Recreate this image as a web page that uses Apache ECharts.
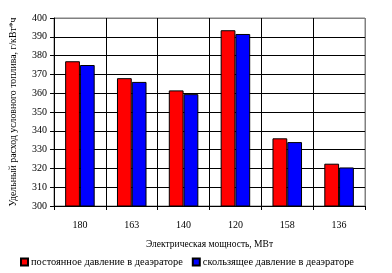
<!DOCTYPE html>
<html><head><meta charset="utf-8">
<script src="https://cdn.jsdelivr.net/npm/echarts@6/dist/echarts.min.js"></script>
<style>html,body{margin:0;padding:0;background:#fff}#c{width:392px;height:273px}</style>
</head><body><div id="c"></div>
<script>
const categories = ['180', '163', '140', '120', '158', '136'];
const constantPressure = [377, 368, 361.5, 393.5, 336, 322.5];
const slidingPressure = [375, 366, 359.5, 391.5, 334, 320.5];
const seriesNames = ['постоянное давление в деаэраторе', 'скользящее давление в деаэраторе'];
const yName = 'Удельный расход условного топлива, г/кВт*ч';
const xName = 'Электрическая мощность, МВт';
const yMin = 300, yMax = 400, yStep = 10;

const F = 'Liberation Serif';
const chart = echarts.init(document.getElementById('c'), null, {renderer: 'canvas'});
const xSplitColors = categories.map(() => '#000').concat(['#808080']);
const ySplitColors = [];
for (let v = yMin; v < yMax; v += yStep) ySplitColors.push('#000');
ySplitColors.push('#808080');
chart.setOption({
  animation: false,
  grid: {left: 49, right: 27, top: 18, bottom: 67, show: true, borderColor: '#808080', borderWidth: 1},
  legend: {
    bottom: 1, left: 15, itemWidth: 7, itemHeight: 7, itemGap: 9,
    icon: 'rect',
    textStyle: {fontFamily: F, fontSize: 10.4, color: '#000', padding: [0,0,0,-2]},
    data: seriesNames
  },
  xAxis: {
    type: 'category', data: categories,
    name: xName, nameLocation: 'middle', nameGap: 33,
    nameTextStyle: {fontFamily: F, fontSize: 9.5, color: '#000'},
    axisLine: {lineStyle: {color: '#000', width: 1}},
    axisTick: {show: true, length: 4, inside: false, lineStyle: {color: '#000'}},
    axisLabel: {fontFamily: F, fontSize: 10, color: '#000', margin: 14},
    splitLine: {show: true, lineStyle: {color: xSplitColors, width: 1}}
  },
  yAxis: {
    type: 'value', min: yMin, max: yMax, interval: yStep,
    name: yName, nameLocation: 'middle', nameGap: 36, nameRotate: 90,
    nameTextStyle: {fontFamily: F, fontSize: 9.8, color: '#000'},
    axisLine: {show: true, lineStyle: {color: '#000', width: 1}},
    axisTick: {show: true, length: 4, lineStyle: {color: '#000'}},
    axisLabel: {fontFamily: F, fontSize: 10, color: '#000', margin: 7},
    splitLine: {show: true, lineStyle: {color: ySplitColors, width: 1}}
  },
  series: [
    {name: seriesNames[0], type: 'bar', data: constantPressure, barGap: '0%', barCategoryGap: '43%',
     itemStyle: {color: '#ff0000', borderColor: '#000', borderWidth: 1}},
    {name: seriesNames[1], type: 'bar', data: slidingPressure,
     itemStyle: {color: '#0000ff', borderColor: '#000', borderWidth: 1}}
  ]
});
</script></body></html>
